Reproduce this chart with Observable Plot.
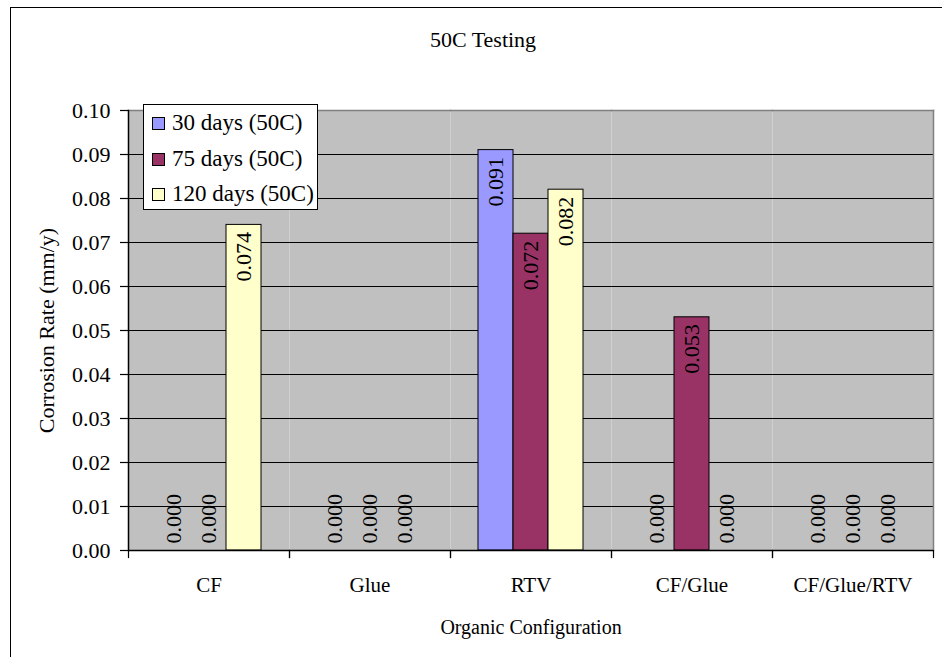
<!DOCTYPE html>
<html>
<head>
<meta charset="utf-8">
<script src="https://cdn.jsdelivr.net/npm/d3@7"></script>
<script src="https://cdn.jsdelivr.net/npm/@observablehq/plot@0.6"></script>
<style>
  html, body { margin: 0; padding: 0; background: #fff; }
  #chart { position: relative; width: 942px; height: 657px; overflow: hidden;
           font-family: "Liberation Serif", "Times New Roman", serif; color: #000; }
  #border { position: absolute; left: 10px; top: 7px; width: 1000px; height: 700px;
            border: 1.5px solid #000; box-sizing: border-box; }
  #title { position: absolute; left: 0; width: 966px; top: 27px; text-align: center;
           font-size: 22px; line-height: 26px; }
  #plot { position: absolute; left: 0; top: 0; }
  #legend { position: absolute; left: 143px; top: 104px; width: 175px; height: 106px;
            box-sizing: border-box; border: 1px solid #000; background: #fff; font-size: 23px; }
  #legend .row { position: absolute; left: 8px; height: 26px; line-height: 26px;
                 display: flex; align-items: center; white-space: nowrap; }
  #legend .sw { width: 13px; height: 13px; border: 1px solid #000; box-sizing: border-box; margin-right: 7px; }
</style>
</head>
<body>
<div id="chart">
  <div id="border"></div>
  <div id="title">50C Testing</div>
  <div id="plot"></div>
  <div id="legend"></div>
</div>
<script>
// Corrosion rate (mm/y) per organic configuration, one array per exposure period
const categories = ["CF", "Glue", "RTV", "CF/Glue", "CF/Glue/RTV"];
const series = ["30 days (50C)", "75 days (50C)", "120 days (50C)"];
const days30 = [0.000, 0.000, 0.091, 0.000, 0.000];
const days75 = [0.000, 0.000, 0.072, 0.053, 0.000];
const days120 = [0.074, 0.000, 0.082, 0.000, 0.000];
const seriesColors = ["#9999ff", "#993366", "#ffffcc"];
const yTicks = [0, 0.01, 0.02, 0.03, 0.04, 0.05, 0.06, 0.07, 0.08, 0.09, 0.10];

const gridTicks = yTicks.filter(t => t > 0 && t < 0.1);
const valueSets = [days30, days75, days120];
const table = categories.flatMap((category, i) =>
  valueSets.map((values, j) => ({category, series: series[j], value: values[i]}))
);
const fmt3 = d3.format(".3f");

const plot = Plot.plot({
  width: 942,
  height: 657,
  marginLeft: 126,
  marginRight: 7,
  marginTop: 110,
  marginBottom: 107,
  style: {fontFamily: "Liberation Serif, Times New Roman, serif", fontSize: "21px",
          background: "transparent", color: "#000", overflow: "visible"},
  fx: {domain: categories, padding: 0},
  x: {domain: series, paddingInner: 0, paddingOuter: 0.75, axis: null},
  y: {domain: [0, 0.1]},
  color: {domain: series, range: seriesColors},
  marks: [
    // plot area background and gridlines
    Plot.frame({fill: "#c0c0c0", stroke: null}),
    Plot.gridY(gridTicks, {stroke: "#000", strokeOpacity: 1, strokeWidth: 1}),
    Plot.frame({anchor: "top", stroke: "#808080", strokeWidth: 1.5}),
    Plot.frame({anchor: "right", stroke: "#808080", strokeWidth: 1.5, facetAnchor: "right"}),
    // bars
    Plot.barY(table, {fx: "category", x: "series", y: "value", fill: "series",
                      stroke: "#000", strokeWidth: 1}),
    // value labels: inside the bar top for non-zero values, above the baseline for zeros
    Plot.text(table.filter(d => d.value > 0), {
      fx: "category", x: "series", y: "value", text: d => fmt3(d.value),
      rotate: -90, textAnchor: "end", dy: 7, fontSize: 22, fill: "#000"
    }),
    Plot.text(table.filter(d => d.value === 0), {
      fx: "category", x: "series", y: "value", text: d => fmt3(d.value),
      rotate: -90, textAnchor: "start", dy: -7, fontSize: 22, fill: "#000"
    }),
    // axis lines and category boundary ticks
    Plot.ruleY([0], {stroke: "#000", strokeWidth: 1.5}),
    Plot.frame({anchor: "left", facetAnchor: "left", stroke: "#000", strokeWidth: 1.5}),
    Plot.frame({anchor: "left", insetTop: 440, insetBottom: -7, stroke: "#000", strokeWidth: 1.2}),
    Plot.frame({anchor: "right", insetTop: 440, insetBottom: -7, stroke: "#000", strokeWidth: 1.2}),
    Plot.axisY(yTicks, {
      tickSize: 8, tickPadding: 10, tickFormat: ".2f", strokeWidth: 1.2, fontSize: 22,
      label: "Corrosion Rate (mm/y)", labelAnchor: "center", labelOffset: 90, labelArrow: false
    }),
    Plot.axisFx({anchor: "bottom", tickSize: 0, tickPadding: 27, label: null, fontSize: 21}),
    Plot.axisFx([], {
      anchor: "bottom", tickSize: 0,
      label: "Organic Configuration", labelAnchor: "center", labelOffset: 83, fontSize: 20
    })
  ]
});
document.getElementById("plot").appendChild(plot);

// legend box
const legend = document.getElementById("legend");
const rowTops = [5, 41, 76];
series.forEach((name, i) => {
  const row = document.createElement("div");
  row.className = "row";
  row.style.top = rowTops[i] + "px";
  const sw = document.createElement("span");
  sw.className = "sw";
  sw.style.background = seriesColors[i];
  const label = document.createElement("span");
  label.textContent = name;
  row.appendChild(sw);
  row.appendChild(label);
  legend.appendChild(row);
});
</script>
</body>
</html>
